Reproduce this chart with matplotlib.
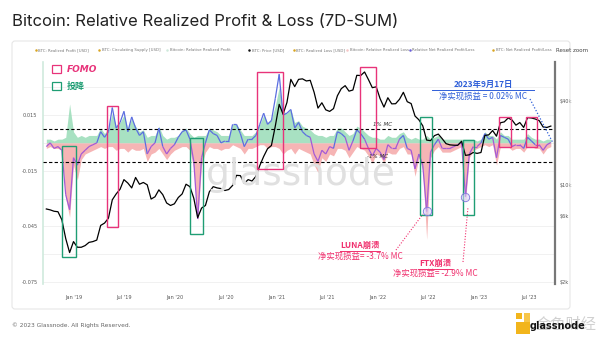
import numpy as np
import pandas as pd
import matplotlib
matplotlib.use('Agg')
import matplotlib.pyplot as plt
import matplotlib.dates as mdates
from matplotlib.patches import Rectangle, FancyBboxPatch
from matplotlib.collections import LineCollection

CJK = ['Noto Sans CJK SC', 'DejaVu Sans']

# biweekly samples, 2018-09-23 .. 2023-09-17
dates = pd.date_range('2018-09-23', periods=131, freq='14D')

price = [6700, 6600, 6450, 6400, 5600, 4100, 3250, 3900, 3550, 3550,
         3650, 3850, 3900, 4000, 5100, 5300, 5750, 7800, 8600, 9300,
         10900, 10300, 9500, 11300, 10100, 10400, 10000, 7900, 8200, 9200,
         8500, 7400, 7100, 7300, 8100, 8600, 10100, 9700, 8000, 5800,
         6800, 7100, 8900, 9700, 9500, 9400, 9100, 9250, 9900, 11700,
         11650, 10250, 10900, 10650, 11500, 13750, 16000, 18200, 19200, 26500,
         38000, 32300, 39200, 57500, 51000, 57500, 58000, 56000, 56600, 46400,
         35700, 39000, 34700, 33800, 35400, 43800, 49300, 51800, 47300, 48200,
         61500, 61300, 65000, 57300, 50100, 50800, 41800, 36300, 42400, 38300,
         38400, 41300, 46400, 39700, 38500, 31300, 29400, 26600, 21000, 20800,
         22600, 23200, 21500, 19800, 19400, 19300, 19250, 20600, 16300, 16450,
         17100, 16840, 17100, 22700, 22900, 24600, 22400, 28000, 28400, 30300,
         29300, 26900, 28100, 25900, 30500, 30300, 29800, 29000, 26100, 25900,
         26500]

net = [-0.002, 0.000, -0.003, -0.002, -0.004, -0.028, -0.036, -0.008, -0.012, -0.006,
       -0.004, -0.002, -0.001, 0.000, 0.006, 0.003, 0.006, 0.019, 0.008, 0.011,
       0.017, 0.006, 0.014, 0.008, 0.004, 0.006, -0.006, -0.002, 0.000, 0.008,
       -0.002, -0.006, -0.003, -0.001, 0.003, 0.006, 0.007, 0.002, -0.010, -0.041,
       -0.008, 0.000, 0.007, 0.005, 0.004, 0.000, 0.001, 0.001, 0.010, 0.010,
       0.005, -0.002, 0.002, 0.002, 0.004, 0.010, 0.016, 0.010, 0.012, 0.024,
       0.037, 0.015, 0.016, 0.018, 0.008, 0.011, 0.006, 0.004, 0.003, -0.006,
       -0.010, -0.004, -0.006, -0.002, -0.003, 0.006, 0.005, 0.003, -0.004, 0.001,
       0.007, 0.005, 0.002, -0.003, -0.007, -0.003, -0.005, -0.009, -0.001, -0.003,
       -0.003, 0.002, 0.004, -0.003, -0.004, -0.014, -0.006, -0.012, -0.037, -0.005,
       -0.001, 0.002, -0.003, -0.003, -0.003, -0.002, -0.001, 0.000, -0.029, -0.006,
       -0.002, -0.002, 0.000, 0.005, 0.002, 0.003, -0.008, 0.004, 0.003, 0.002,
       -0.002, -0.001, -0.001, -0.003, 0.003, 0.001, -0.001, -0.001, -0.004, -0.001,
       0.0002]

profit = [0.002, 0.002, 0.001, 0.002, 0.002, 0.003, 0.021, 0.006, 0.003, 0.004,
          0.003, 0.004, 0.004, 0.004, 0.008, 0.005, 0.008, 0.016, 0.009, 0.011,
          0.015, 0.008, 0.013, 0.009, 0.006, 0.007, 0.003, 0.004, 0.004, 0.009,
          0.004, 0.002, 0.003, 0.003, 0.004, 0.007, 0.008, 0.005, 0.003, 0.004,
          0.004, 0.004, 0.008, 0.007, 0.006, 0.004, 0.004, 0.004, 0.010, 0.010,
          0.007, 0.004, 0.004, 0.004, 0.006, 0.010, 0.015, 0.011, 0.013, 0.020,
          0.030, 0.017, 0.016, 0.018, 0.011, 0.012, 0.009, 0.008, 0.007, 0.005,
          0.004, 0.004, 0.003, 0.004, 0.004, 0.008, 0.008, 0.006, 0.004, 0.005,
          0.009, 0.008, 0.006, 0.004, 0.003, 0.003, 0.002, 0.002, 0.004, 0.003,
          0.003, 0.005, 0.006, 0.003, 0.002, 0.003, 0.002, 0.002, 0.004, 0.002,
          0.003, 0.004, 0.002, 0.002, 0.002, 0.002, 0.002, 0.002, 0.002, 0.002,
          0.002, 0.001, 0.002, 0.006, 0.004, 0.004, 0.002, 0.006, 0.004, 0.004,
          0.002, 0.002, 0.002, 0.002, 0.005, 0.003, 0.002, 0.002, 0.001, 0.002,
          0.002]

loss = [-0.003, -0.002, -0.003, -0.003, -0.004, -0.030, -0.040, -0.012, -0.020, -0.009,
        -0.006, -0.005, -0.004, -0.003, -0.002, -0.003, -0.002, -0.002, -0.004, -0.003,
        -0.003, -0.005, -0.003, -0.004, -0.004, -0.003, -0.010, -0.006, -0.005, -0.003,
        -0.006, -0.009, -0.006, -0.004, -0.003, -0.002, -0.002, -0.004, -0.014, -0.042,
        -0.012, -0.005, -0.002, -0.003, -0.003, -0.004, -0.003, -0.003, -0.001, -0.002,
        -0.003, -0.006, -0.003, -0.003, -0.002, -0.001, -0.001, -0.003, -0.002, -0.002,
        -0.003, -0.006, -0.004, -0.003, -0.006, -0.003, -0.004, -0.005, -0.006, -0.012,
        -0.016, -0.008, -0.010, -0.006, -0.007, -0.003, -0.003, -0.004, -0.008, -0.005,
        -0.002, -0.003, -0.004, -0.007, -0.011, -0.006, -0.007, -0.011, -0.005, -0.006,
        -0.006, -0.003, -0.002, -0.006, -0.006, -0.018, -0.008, -0.015, -0.052, -0.008,
        -0.004, -0.002, -0.005, -0.005, -0.005, -0.004, -0.003, -0.002, -0.032, -0.008,
        -0.004, -0.003, -0.002, -0.001, -0.002, -0.001, -0.012, -0.002, -0.002, -0.002,
        -0.004, -0.003, -0.003, -0.005, -0.002, -0.002, -0.003, -0.003, -0.006, -0.003,
        -0.002]

# highlight boxes: start, end, low, high (left axis units), kind
box_start = ['2018-11-18', '2019-04-30', '2020-02-23', '2020-10-22', '2021-10-28',
             '2022-06-02', '2022-11-04', '2023-03-14', '2023-06-19']
box_end = ['2019-01-08', '2019-06-08', '2020-04-10', '2021-01-24', '2021-12-25',
           '2022-07-15', '2022-12-13', '2023-04-26', '2023-07-29']
box_low = [-0.0615, -0.0455, -0.0491, -0.0141, -0.0028, -0.039, -0.039, -0.0023, -0.0023]
box_high = [-0.0017, 0.0198, 0.0026, 0.0382, 0.0408, 0.0139, 0.0015, 0.0139, 0.0139]
box_kind = ['cap', 'fomo', 'cap', 'fomo', 'fomo', 'cap', 'cap', 'fomo', 'fomo']

left_ticks = [0.015, -0.015, -0.045, -0.075]
right_ticks = [2000, 6000, 10000, 40000]
right_labels = ['$2k', '$6k', '$10k', '$40k']
x_ticks = pd.date_range('2019-01-01', '2023-07-01', freq='6MS')

PINK = '#e8337a'
GREEN = '#1f9e74'
BLUE = '#2f5fd8'
RED = '#f0306e'

fig = plt.figure(figsize=(6, 3.45), dpi=100)
fig.patch.set_facecolor('white')

ax = fig.add_axes([43 / 600, 61 / 345, 512 / 600, 222 / 345])
ax2 = ax.twinx()

x = mdates.date2num(dates)
net_a = np.array(net)

for v in [0.03, 0.015, 0.0, -0.015, -0.03, -0.045, -0.06, -0.075]:
    ax.axhline(v, color='#efefef', lw=0.6, zorder=0)
ax.set_yticks(left_ticks)
ax.set_yticklabels([str(t) for t in left_ticks])
ax.fill_between(dates, 0, profit, color='#93dab3', alpha=0.8, lw=0, zorder=1)
ax.fill_between(dates, 0, loss, color='#f5a8a8', alpha=0.85, lw=0, zorder=1)

pts = np.column_stack([x, net_a])
segs = np.stack([pts[:-1], pts[1:]], axis=1)
cols = ['#5b6ee0' if (a + b) >= 0 else '#a45ad6' for a, b in zip(net_a[:-1], net_a[1:])]
ax.add_collection(LineCollection(segs, colors=cols, linewidths=0.9, zorder=3))

ax.axhline(0.0075, color='black', lw=0.8, ls=(0, (3, 2)), zorder=4)
ax.axhline(-0.0105, color='black', lw=0.8, ls=(0, (3, 2)), zorder=4)

ax.set_ylim(-0.0761, 0.0436)
ax.set_xlim(mdates.datestr2num('2018-09-11'), mdates.datestr2num('2023-10-02'))

ax2.plot(dates, price, color='black', lw=0.9, zorder=5)
ax2.set_yscale('log')
ax2.set_ylim(1930, 76700)
ax2.set_yticks(right_ticks)
ax2.set_yticklabels(right_labels)
ax2.minorticks_off()

ax.set_xticks(x_ticks)
ax.set_xticklabels([d.strftime("%b '%y") for d in x_ticks])

for a in (ax, ax2):
    a.tick_params(length=0, labelsize=3.6, colors='#555555', pad=4)
    for s in ('top', 'bottom'):
        a.spines[s].set_visible(False)
ax.tick_params(axis='x', pad=8)
ax.spines['right'].set_visible(False)
ax.spines['left'].set_color('#cfeadd')
ax.spines['left'].set_linewidth(1.2)
ax2.spines['left'].set_visible(False)
ax2.spines['right'].set_color('#777777')
ax2.spines['right'].set_linewidth(1.6)
ax2.tick_params(axis='y', pad=3)

# overlay in pixel coordinates
ov = fig.add_axes([0, 0, 1, 1])
ov.set_xlim(0, 600)
ov.set_ylim(345, 0)
ov.axis('off')

ov.add_patch(FancyBboxPatch((12, 41), 558, 268, boxstyle='round,pad=0,rounding_size=3',
                            fill=False, ec='#e6e6e6', lw=0.8, zorder=0))
ov.text(12, 22, 'Bitcoin: Relative Realized Profit & Loss (7D-SUM)', family='Inter',
        fontsize=12, color='#222222', va='center')

legend_items = [(36, '#d9a521', 'BTC: Realized Profit [USD]'),
                (99, '#d9a521', 'BTC: Circulating Supply [USD]'),
                (167, '#cfe9dc', 'Bitcoin: Relative Realized Profit'),
                (249, '#111111', 'BTC: Price [USD]'),
                (294, '#d9a521', 'BTC: Realized Loss [USD]'),
                (347, '#f6c6c6', 'Bitcoin: Relative Realized Loss'),
                (410, '#6a5fd8', 'Relative Net Realized Profit/Loss'),
                (493, '#d9a521', 'BTC: Net Realized Profit/Loss')]
for lx, c, lab in legend_items:
    ov.plot(lx, 50, 'o', ms=1.8, color=c, mec='none')
    ov.text(lx + 2.5, 50, lab, fontsize=2.75, color='#777777', va='center')
ov.text(556, 50, 'Reset zoom', fontsize=4.0, color='#444444', va='center')

ov.text(301, 175, 'glassnode', fontsize=27, color='#e0e0e0', ha='center', va='center',
        zorder=0.5)

for s, e, lo, hi, k in zip(box_start, box_end, box_low, box_high, box_kind):
    x0 = mdates.datestr2num(s)
    x1 = mdates.datestr2num(e)
    ov.add_patch(Rectangle((x0, lo), x1 - x0, hi - lo, fill=False,
                           ec=PINK if k == 'fomo' else GREEN, lw=1.0,
                           transform=ax.transData, clip_on=False, zorder=6))

# legend boxes
ov.add_patch(Rectangle((52, 65), 9, 8, fill=False, ec=PINK, lw=0.9))
ov.text(67, 69, 'FOMO', fontsize=6.5, color=PINK, weight='bold', style='italic', va='center')
ov.add_patch(Rectangle((52, 82), 9, 8, fill=False, ec=GREEN, lw=0.9))
ov.text(67, 86, '投降', fontsize=6.5, color=GREEN, weight='bold', va='center', family=CJK)

ov.text(383, 126, '1% MC', fontsize=4, color='#333333', style='italic', ha='center')
ov.text(378, 158, '-1% MC', fontsize=4, color='#333333', style='italic', ha='center')

# annotations
i_luna = int(np.argmin(net_a[90:100])) + 90
i_ftx = int(np.argmin(net_a[105:112])) + 105
for i in (i_luna, i_ftx):
    ov.plot(x[i], net_a[i], 'o', ms=6, mfc='none', mec='#8a7fe0', mew=0.7, ls='none',
            transform=ax.transData, clip_on=False, zorder=7)
    ov.plot(x[i], net_a[i], 'o', ms=5, mfc='#d9d2f7', mec='none', alpha=0.6,
            transform=ax.transData, clip_on=False, zorder=6)

ov.text(483, 84, '2023年9月17日', fontsize=6, color=BLUE, weight='bold', ha='center',
        va='center', family=CJK)
ov.plot([432, 534], [89.5, 89.5], color=BLUE, lw=0.7)
ov.text(483, 96, '净实现损益 = 0.02% MC', fontsize=6, color=BLUE, ha='center',
        va='center', family=CJK)
ov.plot([530, 553], [99, 143], color=BLUE, lw=0.9, ls=(0, (1, 1.5)))

ov.text(360, 245, 'LUNA崩溃', fontsize=6, color=RED, weight='bold', ha='center',
        va='center', family=CJK)
ov.plot([340, 380], [250.5, 250.5], color=RED, lw=0.7)
ov.text(360, 256, '净实现损益= -3.7% MC', fontsize=6, color=RED, ha='center',
        va='center', family=CJK)
ov.plot([396, 423], [250, 214], color=RED, lw=0.8, ls=(0, (1, 1.5)))

ov.text(435, 263, 'FTX崩溃', fontsize=6, color=RED, weight='bold', ha='center',
        va='center', family=CJK)
ov.plot([418, 452], [268.5, 268.5], color=RED, lw=0.7)
ov.text(435, 273, '净实现损益= -2.9% MC', fontsize=6, color=RED, ha='center',
        va='center', family=CJK)
ov.plot([463, 468], [262, 207], color=RED, lw=0.8, ls=(0, (1, 1.5)))

# footer
ov.text(12, 325, '© 2023 Glassnode. All Rights Reserved.', fontsize=4.2, color='#666666',
        va='center')
ov.add_patch(Rectangle((516, 313), 6, 6, color='#f2b51c', lw=0))
ov.add_patch(Rectangle((516, 322), 14, 12, color='#f2b51c', lw=0))
ov.add_patch(Rectangle((524, 313), 6, 9, color='#f7c64a', lw=0))
ov.text(536, 324, '金色财经', fontsize=11, color='#d0d0d0', va='center', family=CJK)
ov.text(585, 326, 'glassnode', fontsize=7, color='#111111', ha='right', va='center',
        weight='bold')

fig.savefig('out.png', dpi=100)
